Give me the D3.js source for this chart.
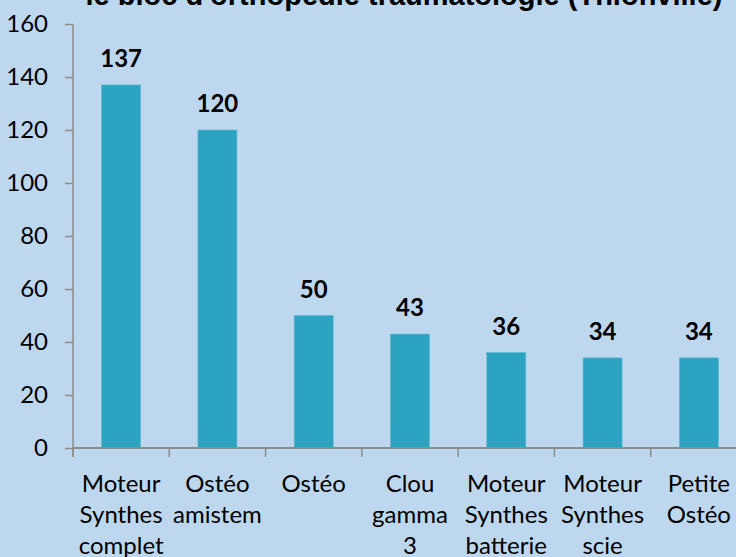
<!DOCTYPE html>
<html>
<head>
<meta charset="utf-8">
<script src="https://cdn.jsdelivr.net/npm/d3@7"></script>
<style>
  html, body { margin: 0; padding: 0; background: #BDD7EE; }
  svg { display: block; }
</style>
</head>
<body>
<div id="chart"></div>
<script>
// données
var categories = ["Moteur Synthes complet", "Ostéo amistem", "Ostéo", "Clou gamma 3",
                  "Moteur Synthes batterie", "Moteur Synthes scie", "Petite Ostéo"];
var labelLines = [["Moteur", "Synthes", "complet"], ["Ostéo", "amistem"], ["Ostéo"],
                  ["Clou", "gamma", "3"], ["Moteur", "Synthes", "batterie"],
                  ["Moteur", "Synthes", "scie"], ["Petite", "Ostéo"]];
var values = [137, 120, 50, 43, 36, 34, 34];
var yTicks = [0, 20, 40, 60, 80, 100, 120, 140, 160];
var title = "le bloc d'orthopédie traumatologie (Thionville)";

var W = 736, H = 557;
var plotLeft = 73, plotRight = 747, plotTop = 24, plotBottom = 448;
var axisColor = "#8c8c8c";
var font = "Lato, 'Open Sans', sans-serif";

var svg = d3.select("#chart").append("svg")
  .attr("width", W)
  .attr("height", H);

svg.append("rect").attr("width", W).attr("height", H).attr("fill", "#BDD7EE");

var x = d3.scaleBand()
  .domain(categories)
  .range([plotLeft, plotRight])
  .paddingInner(0.595)
  .paddingOuter(0.2975);

var y = d3.scaleLinear().domain([0, 160]).range([plotBottom, plotTop]);

// titre (coupé en haut dans l'original)
svg.append("text")
  .attr("x", 404)
  .attr("y", 5)
  .attr("text-anchor", "middle")
  .style("font-family", "'Liberation Sans', Arial, sans-serif")
  .style("font-weight", "bold")
  .style("font-size", "29px")
  .style("fill", "#000")
  .text(title);

// axe Y
var yAxis = svg.append("g")
  .attr("transform", "translate(" + plotLeft + ",0)")
  .call(d3.axisLeft(y).tickValues(yTicks).tickSize(8).tickPadding(17));
yAxis.select(".domain").remove();
yAxis.selectAll(".tick line").attr("stroke", axisColor).attr("stroke-width", 1.5);
yAxis.selectAll(".tick text")
  .style("font-family", font)
  .style("font-size", "24px")
  .style("fill", "#000");
svg.append("line")
  .attr("x1", plotLeft).attr("x2", plotLeft)
  .attr("y1", y(160)).attr("y2", plotBottom + 9)
  .attr("stroke", axisColor).attr("stroke-width", 1.5);

// barres
svg.append("g")
  .selectAll("rect")
  .data(values)
  .join("rect")
  .attr("x", (d, i) => x(categories[i]))
  .attr("y", d => y(d))
  .attr("width", x.bandwidth())
  .attr("height", d => y(0) - y(d))
  .attr("fill", "#2CA3C0")
  .attr("stroke", "#5cb8d0")
  .attr("stroke-width", 0.6);

// axe X
svg.append("line")
  .attr("x1", plotLeft).attr("x2", plotRight)
  .attr("y1", plotBottom).attr("y2", plotBottom)
  .attr("stroke", axisColor).attr("stroke-width", 1.8);

var gap = (x.step() - x.bandwidth()) / 2;
svg.append("g")
  .selectAll("line")
  .data(categories)
  .join("line")
  .attr("x1", d => x(d) - gap)
  .attr("x2", d => x(d) - gap)
  .attr("y1", plotBottom)
  .attr("y2", plotBottom + 9)
  .attr("stroke", axisColor)
  .attr("stroke-width", 1.5);

// étiquettes des catégories
var cat = svg.append("g")
  .selectAll("text")
  .data(labelLines)
  .join("text")
  .attr("text-anchor", "middle")
  .style("font-family", font)
  .style("font-size", "24px")
  .style("fill", "#000");
cat.each(function(lines, i) {
  var t = d3.select(this);
  lines.forEach(function(l, j) {
    t.append("tspan")
      .attr("x", x(categories[i]) + x.bandwidth() / 2)
      .attr("y", 492 + j * 31)
      .text(l);
  });
});

// valeurs au-dessus des barres
svg.append("g")
  .selectAll("text")
  .data(values)
  .join("text")
  .attr("x", (d, i) => x(categories[i]) + x.bandwidth() / 2)
  .attr("y", d => y(d) - 18)
  .attr("text-anchor", "middle")
  .style("font-family", font)
  .style("font-weight", "bold")
  .style("font-size", "24px")
  .style("fill", "#000")
  .text(d => d);
</script>
</body>
</html>
